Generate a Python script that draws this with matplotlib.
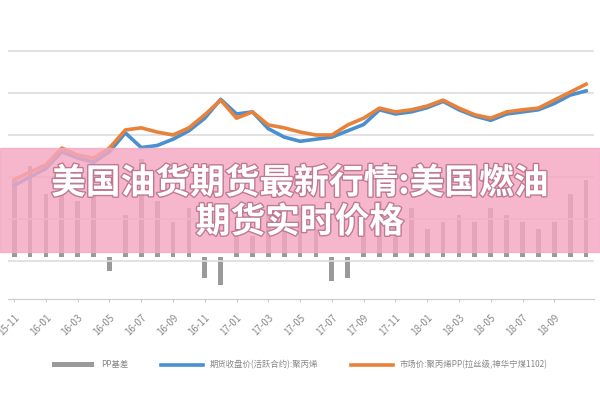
import numpy as np
import matplotlib.pyplot as plt
import matplotlib.patheffects as pe
from matplotlib.patches import Rectangle

plt.rcParams['font.family'] = ['Noto Sans CJK SC', 'DejaVu Sans']

# months relative to 2016-01
months = np.arange(-2, 35)
futures = [7800, 8000, 8200, 8600, 8450, 8350, 8600, 9050, 8700, 8750, 8900, 9100, 9400,
           9850, 9500, 9550, 9150, 8950, 8850, 8900, 8950, 9100, 9250, 9600, 9500, 9550,
           9650, 9800, 9600, 9450, 9350, 9500, 9550, 9600, 9750, 9950, 10050]
spot = [7930, 8120, 8290, 8690, 8520, 8450, 8690, 9120, 9170, 9070, 9000, 9170, 9480,
        9830, 9400, 9550, 9240, 9170, 9070, 9000, 9000, 9240, 9400, 9640, 9550, 9600,
        9690, 9830, 9640, 9480, 9400, 9550, 9600, 9640, 9830, 10020, 10210]
basis = [1100, 1300, 900, 1200, 800, 1000, -200, 600, 1400, 800, 500, 700, -300, -400,
         400, 300, 600, 500, 700, 400, -350, -300, 500, 800, 600, 700, 400, 500, 600,
         500, 700, 600, 500, 400, 500, 900, 1100]
tick_months = np.arange(-2, 33, 2)
tick_labels = ["15-11", "16-01", "16-03", "16-05", "16-07", "16-09", "16-11", "17-01",
               "17-03", "17-05", "17-07", "17-09", "17-11", "18-01", "18-03", "18-05",
               "18-07", "18-09"]
legend_labels = ["PP基差", "期货收盘价(活跃合约):聚丙烯",
                 "市场价:聚丙烯PP(拉丝级,神华宁煤1102)"]
title_lines = ["美国油货期货最新行情:美国燃油", "期货实时价格"]

fig = plt.figure(figsize=(6, 4), dpi=100)
ax = fig.add_axes([0.013, 0.2525, 0.977, 0.71])
ax2 = ax.twinx()
ax.set_zorder(2)
ax.patch.set_visible(False)

b = ax2.bar(months, basis, width=0.3, color="#9a9a9a", label=legend_labels[0])
ax2.set_ylim(-600, 3450)
ax2.axis("off")

l1, = ax.plot(months, futures, color="#4a8fd0", lw=2.6, label=legend_labels[1])
l2, = ax.plot(months, spot, color="#e8823a", lw=2.6, label=legend_labels[2])
ax.set_ylim(5095, 11857)
ax.set_xlim(-2.4, 34.5)
ax.set_yticks(np.arange(6000, 11001, 1000))
ax.yaxis.grid(True, color="#dddddd", lw=1.2)
ax.tick_params(axis="y", left=False, labelleft=False)
ax.set_xticks(tick_months)
ax.set_xticklabels(tick_labels, rotation=45, fontsize=7, color="#888888",
                   ha="right", rotation_mode="anchor")
ax.tick_params(axis="x", length=2, color="#cccccc", pad=8)
for s in ["top", "left", "right"]:
    ax.spines[s].set_visible(False)
ax.spines["bottom"].set_color("#cccccc")

fig.legend([b, l1, l2], legend_labels, loc="center", bbox_to_anchor=(0.5, 0.088),
           ncol=3, frameon=False, fontsize=6, labelcolor="#888888",
           handlelength=5, columnspacing=4)

fig.patches.append(Rectangle((0, 1 - 252 / 400), 1, 104 / 400, transform=fig.transFigure,
                             color="#f5a8c3", alpha=0.82, zorder=5))
for txt, y in zip(title_lines, [183, 222]):
    fig.text(0.5, 1 - y / 400, txt, ha="center", va="center", fontsize=25,
             fontweight="bold", color="white", zorder=6,
             path_effects=[pe.withStroke(linewidth=2, foreground="#c07a90")])

fig.savefig("out.png", dpi=100)
